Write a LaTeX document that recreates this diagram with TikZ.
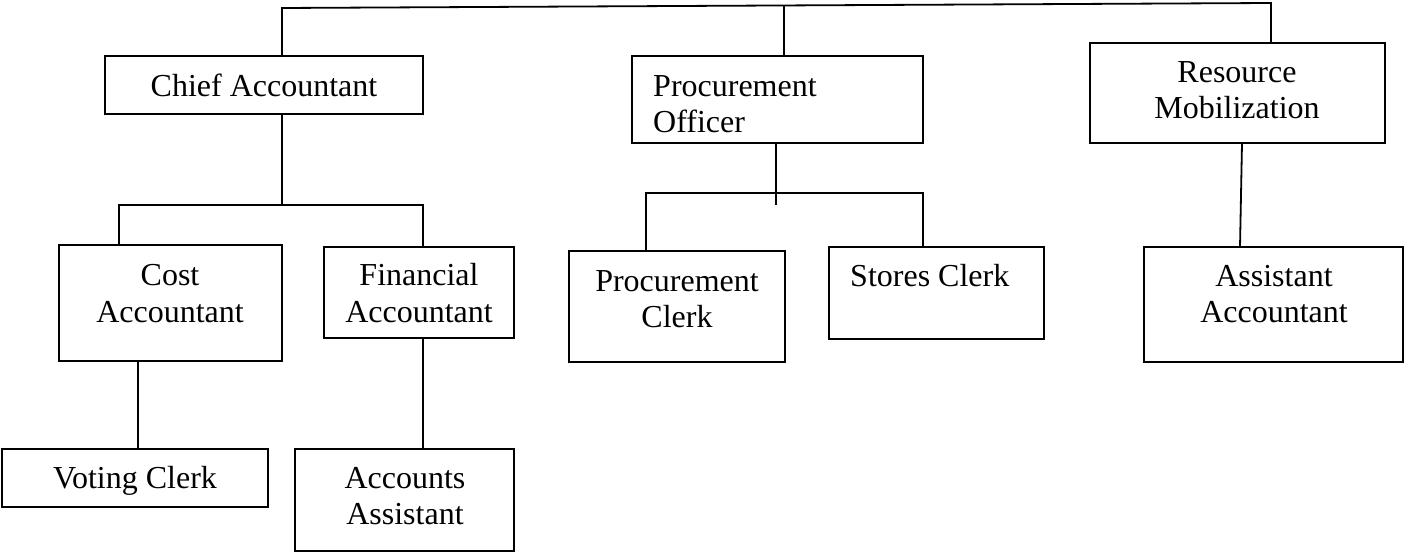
\documentclass[tikz,border=0pt]{standalone}
\usepackage{fontspec}
\setmainfont{Liberation Serif}
\newcommand{\twol}[2]{\begin{tabular}[t]{@{}c@{}}#1\\#2\end{tabular}}
\newcommand{\twoleft}[2]{\begin{tabular}[t]{@{}l@{}}#1\\#2\end{tabular}}
\begin{document}
\begin{tikzpicture}[x=1pt,y=-1pt,
  orgbox/.style={draw=black, line width=2pt, inner sep=0pt, outer sep=0pt, anchor=north west},
  lbl/.style={inner sep=0pt, font=\fontsize{32}{36}\selectfont, anchor=base},
  conn/.style={draw=black, line width=1.8pt}]
\useasboundingbox (0,0) rectangle (1405,553);
% boxes: corner (x1,y1), size
\node[orgbox, minimum width=318pt, minimum height=58pt] (ca) at (105,56) {};
\node[orgbox, minimum width=291pt, minimum height=87pt] (po) at (632,56) {};
\node[orgbox, minimum width=295pt, minimum height=100pt] (rm) at (1090,43) {};
\node[orgbox, minimum width=223pt, minimum height=116pt] (cost) at (59,245) {};
\node[orgbox, minimum width=190pt, minimum height=91pt] (fin) at (324,247) {};
\node[orgbox, minimum width=216pt, minimum height=111pt] (pc) at (569,251) {};
\node[orgbox, minimum width=215pt, minimum height=92pt] (sc) at (829,247) {};
\node[orgbox, minimum width=259pt, minimum height=115pt] (aa) at (1144,247) {};
\node[orgbox, minimum width=266pt, minimum height=58pt] (vc) at (2,449) {};
\node[orgbox, minimum width=219pt, minimum height=102pt] (acc) at (295,449) {};
% labels
\node[lbl] (tca) at (264,97) {Chief Accountant};
\node[lbl, anchor=base west] (tpo) at (653,97) {\twoleft{Procurement}{Officer}};
\node[lbl] (trm) at (1237,83) {\twol{Resource}{Mobilization}};
\node[lbl] (tcost) at (170,286) {\twol{Cost}{Accountant}};
\node[lbl] (tfin) at (419,286) {\twol{Financial}{Accountant}};
\node[lbl] (tpc) at (677,291) {\twol{Procurement}{Clerk}};
\node[lbl, anchor=base west] (tsc) at (850,287) {Stores Clerk};
\node[lbl] (taa) at (1274,287) {\twol{Assistant}{Accountant}};
\node[lbl] (tvc) at (135,488) {Voting Clerk};
\node[lbl] (tacc) at (405,488) {\twol{Accounts}{Assistant}};
% connector points
\coordinate (top1) at (282,8);
\coordinate (top2) at (784,5.5);
\coordinate (top3) at (1271,3);
\coordinate (bar1) at (282,205);
\coordinate (bl) at (119,205);
\coordinate (br) at (423,205);
\coordinate (pbar) at (776,193);
\coordinate (pl) at (646,193);
\coordinate (pr) at (923,193);
\coordinate (pend) at (776,205);
% connectors
\draw[conn] (top1 |- ca.north) -- (top1) -- (top3) -- (top3 |- rm.north);
\draw[conn] (top2) -- (top2 |- po.north);
\draw[conn] (bar1 |- ca.south) -- (bar1);
\draw[conn] (bl |- cost.north) -- (bl) -- (br) -- (br |- fin.north);
\draw[conn] (138,0 |- cost.south) -- (138,0 |- vc.north);
\draw[conn] (br |- fin.south) -- (br |- acc.north);
\draw[conn] (pbar |- po.south) -- (pend);
\draw[conn] (pl |- pc.north) -- (pl) -- (pr) -- (pr |- sc.north);
\draw[conn] (1242,0 |- rm.south) -- (1240,0 |- aa.north);
\end{tikzpicture}
\end{document}
